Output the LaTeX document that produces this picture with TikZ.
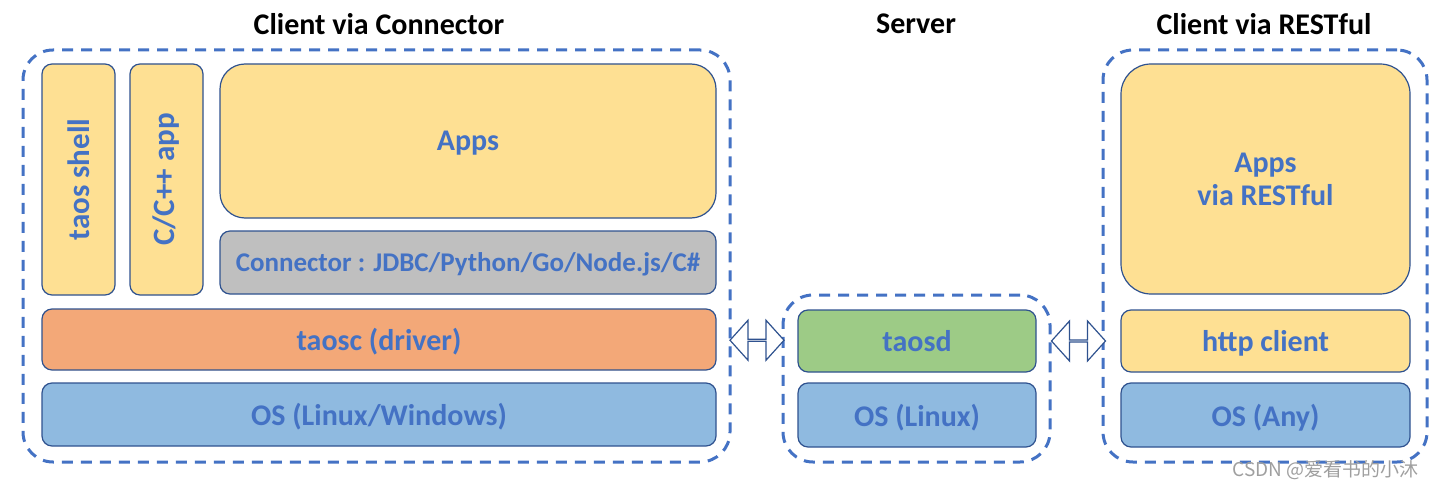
\documentclass[tikz,border=0pt]{standalone}
\usepackage{fontspec}
\setmainfont{Carlito}
\newfontfamily\cjk{Noto Sans CJK SC}
\usetikzlibrary{shapes.arrows,calc}
\definecolor{yfill}{HTML}{FEE093}
\definecolor{ofill}{HTML}{F3A878}
\definecolor{gfill}{HTML}{BFBFBF}
\definecolor{grfill}{HTML}{9DCB86}
\definecolor{bfill}{HTML}{8FBAE0}
\definecolor{edge}{HTML}{2F528F}
\definecolor{txt}{HTML}{4472C4}
\tikzset{
  blk/.style={draw=edge, line width=1.2pt, rounded corners=10pt, inner sep=0pt,
    text=txt, font=\fontsize{30}{33}\selectfont\bfseries, align=center},
  oneline/.style={blk, text depth=0pt},
  vlabel/.style={text=txt, font=\fontsize{31}{34}\selectfont\bfseries, rotate=90},
  grp/.style={draw=txt, line width=3pt, dash pattern=on 11pt off 8pt,
    rounded corners=30pt, inner sep=0pt},
  title/.style={font=\fontsize{30}{33}\selectfont\bfseries, text=black},
  darrow/.style={double arrow, draw=edge, fill=white, line width=1.2pt,
    minimum height=54pt, minimum width=40pt, inner sep=0pt,
    double arrow head extend=11.5pt, double arrow head indent=0pt,
    double arrow tip angle=96}
}
\begin{document}
\begin{tikzpicture}[x=1pt,y=-1pt]
  \useasboundingbox (0,0) rectangle (1437,489);
  % titles
  \node[title] (tcli) at ( 379, 24) {Client via Connector};
  \node[title] (tsrv) at ( 916, 24) {Server};
  \node[title] (trst) at (1264, 24) {Client via RESTful};
  % dashed groups
  \node[grp, minimum width=707pt, minimum height=412pt] (cli) at ( 376.5, 256) {};
  \node[grp, minimum width=267pt, minimum height=167pt] (srv) at ( 916.5, 378.5) {};
  \node[grp, minimum width=324pt, minimum height=412pt] (rst) at (1265, 256) {};
  % client via connector
  \node[blk, fill=yfill, minimum width=73pt, minimum height=231pt] (shell) at ( 78.5, 179.5) {};
  \node[vlabel] at (shell.center) {taos shell};
  \node[blk, fill=yfill, minimum width=73pt, minimum height=231pt] (capp) at (166.5, 179.5) {};
  \node[vlabel] at (capp.center) {C/C++ app};
  \node[oneline, fill=yfill, rounded corners=25pt, minimum width=496pt, minimum height=154pt] (apps) at (468, 141) {Apps};
  \node[oneline, fill=gfill, font=\fontsize{27}{30}\selectfont\bfseries, minimum width=496pt, minimum height=63pt] (conn) at (468, 262.5) {Connector : JDBC/Python/Go/Node.js/C\#};
  \node[oneline, fill=ofill, minimum width=674pt, minimum height=61pt] (taosc) at (379, 339.5) {taosc (driver)};
  \node[oneline, fill=bfill, minimum width=674pt, minimum height=63pt] (oscl) at (379, 414.5) {OS (Linux/Windows)};
  % server
  \node[oneline, fill=grfill, minimum width=238pt, minimum height=62pt] (taosd) at (917, 341) {taosd};
  \node[oneline, fill=bfill, minimum width=238pt, minimum height=64pt] (ossv) at (917, 415) {OS (Linux)};
  % client via restful
  \node[blk, fill=yfill, rounded corners=30pt, minimum width=289pt, minimum height=230pt] (rapps) at (1265.5, 179) {Apps\\via RESTful};
  \node[oneline, fill=yfill, minimum width=289pt, minimum height=62pt] (http) at (1265.5, 341) {http client};
  \node[oneline, fill=bfill, minimum width=289pt, minimum height=64pt] (osany) at (1265.5, 415) {OS (Any)};
  % links
  \node[darrow] (lnk1) at ($(taosc.east)!0.5!(taosd.west)$) {};
  \node[darrow] (lnk2) at ($(taosd.east)!0.5!(http.west)$) {};
  % watermark
  \node[anchor=east, text=gray!75, font=\cjk\fontsize{19}{22}\selectfont] (wm) at (1422, 470) {CSDN @爱看书的小沐};
\end{tikzpicture}
\end{document}
